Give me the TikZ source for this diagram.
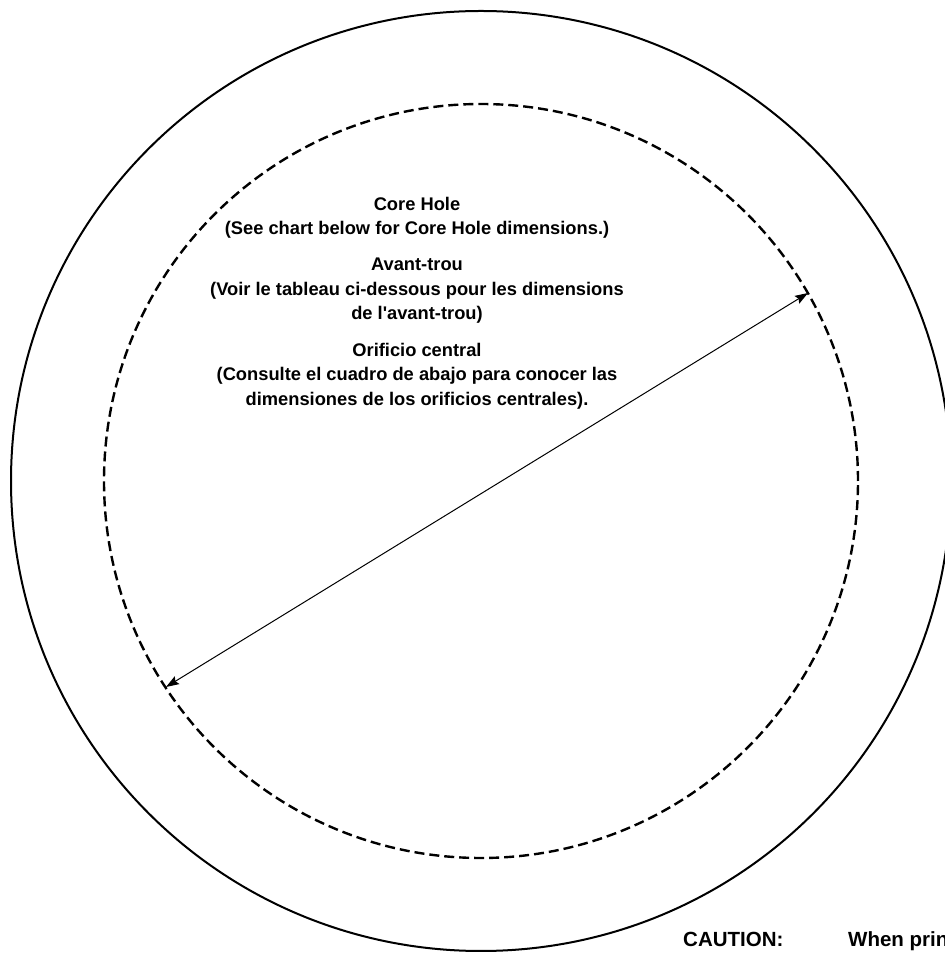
\documentclass[tikz,border=0pt]{standalone}
\usepackage{fontspec}
\setmainfont{Liberation Sans}
\usepackage{tikz}
\usetikzlibrary{arrows.meta}

\begin{document}
\begin{tikzpicture}[x=1pt, y=1pt,
  holetext/.style={font=\bfseries\fontsize{18.3}{24.5}\selectfont, align=center},
  notetext/.style={font=\bfseries\fontsize{20.5}{24}\selectfont, anchor=base west, inner sep=0pt}]
\useasboundingbox (0,0) rectangle (945,954);
\clip (0,0) rectangle (945,954);
\draw[line width=2pt] (481,473) circle (470);
\draw[line width=2.4pt, dash pattern=on 10pt off 5pt] (481,473) circle (377);
\coordinate (tipA) at (166,267);
\coordinate (tipB) at (808,661);
\draw[line width=1pt, {Stealth[length=13pt,width=9pt,inset=2pt]}-{Stealth[length=13pt,width=9pt,inset=2pt]}] (tipA) -- (tipB);
\node[holetext] (core) at (417,736) {Core Hole\\(See chart below for Core Hole dimensions.)};
\node[holetext] (avant) at (417,663) {Avant-trou\\(Voir le tableau ci-dessous pour les dimensions\\de l\textquotesingle avant-trou)};
\node[holetext] (orificio) at (417,578) {Orificio central\\(Consulte el cuadro de abajo para conocer las\\dimensiones de los orificios centrales).};
\node[notetext] (caution) at (683,8) {CAUTION:};
\node[notetext] (when) at (848,8) {When prin};
\end{tikzpicture}
\end{document}
